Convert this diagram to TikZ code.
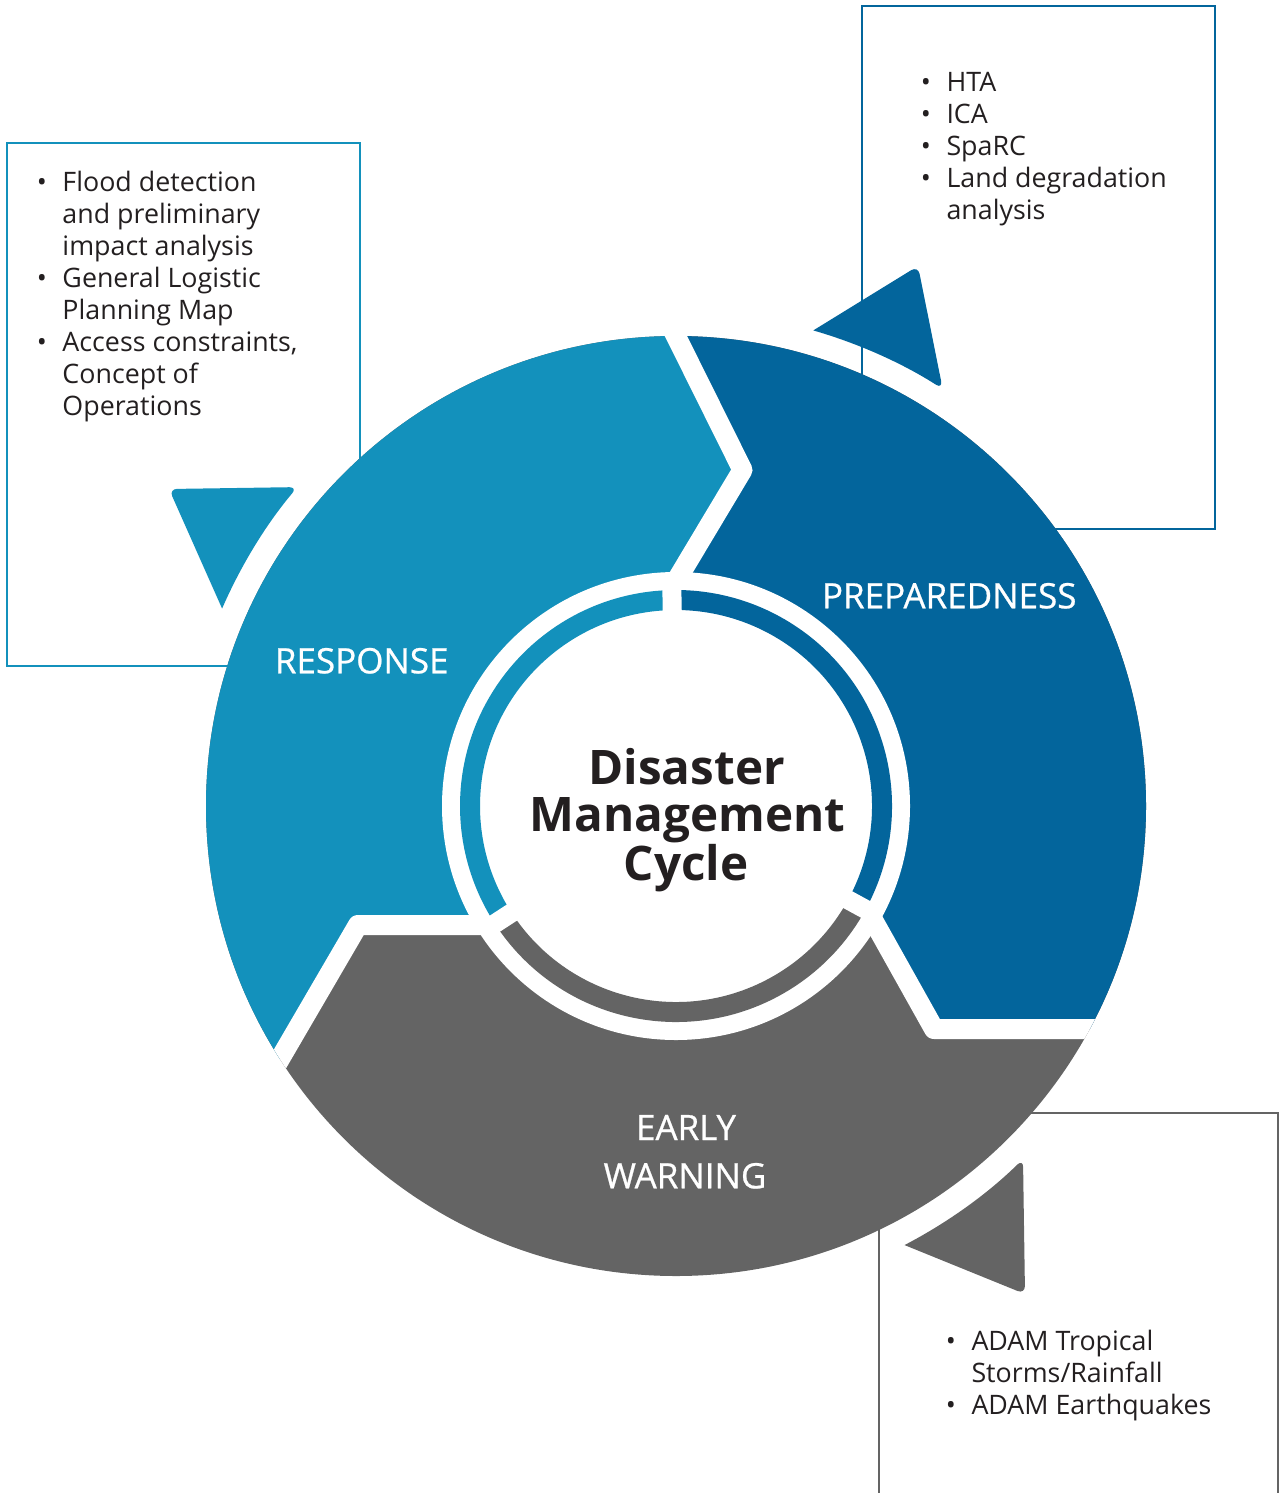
\documentclass[tikz,border=0pt]{standalone}
\usepackage{fontspec}
\setmainfont{Open Sans}
\newfontfamily\labelfont[FakeBold=0.7]{Open Sans}
\definecolor{lb}{HTML}{1391BC}
\definecolor{db}{HTML}{03659C}
\definecolor{gr}{HTML}{646464}
\definecolor{tx}{HTML}{231F20}
\newcommand{\bitem}[1]{\hbox{\makebox[12.8pt][l]{•}#1}}
\newcommand{\bcont}[1]{\hbox{\hspace*{12.8pt}#1}}
\tikzset{
  boxline/.style={line width=1pt},
  listtext/.style={font=\fontsize{13.4}{16}\selectfont, text=tx, anchor=base west, inner sep=0pt},
  seglabel/.style={font=\labelfont\fontsize{17.5}{24}\selectfont, text=white, anchor=base, inner sep=0pt},
  titletext/.style={font=\bfseries\fontsize{23.8}{24}\selectfont, text=tx, anchor=base, inner sep=0pt},
  sepline/.style={white, line width=10pt, line join=round},
  ringgap/.style={white, line width=9.5pt},
  ringarc/.style={line width=10pt},
}
\begin{document}
\begin{tikzpicture}[x=0.5pt,y=-0.5pt]
\useasboundingbox (0,0) rectangle (1280,1493);
% boxes
\draw[lb, boxline] (7,143) rectangle (360,666);
\draw[db, boxline] (862,6) rectangle (1215,529);
\draw[gr, boxline] (879,1500) -- (879,1113) -- (1278,1113) -- (1278,1500);
% arrowheads
\fill[db] (813.3,330.4) [rounded corners=4pt] -- (918,266) -- (942.7,389) [sharp corners] arc[start angle=-57.4, end angle=-73.9, radius=495] -- cycle;
\fill[lb] (222.1,608.6) [rounded corners=4pt] -- (169,489) -- (297.4,487.1) [sharp corners] arc[start angle=-139.9, end angle=-156.5, radius=495] -- cycle;
\fill[gr] (904.6,1245.1) [rounded corners=4pt] -- (1025,1294) -- (1023,1159) [sharp corners] arc[start angle=45.5, end angle=62.5, radius=495] -- cycle;
% big segments
\begin{scope}
  \clip (676,806) circle[radius=470];
  \fill[gr] (0,0) rectangle (1280,1493);
  \fill[lb] (658,300) -- (742.5,470) -- (681.5,572) -- (676,806) -- (480,925) -- (358,925) -- (207,1184) -- (0,1184) -- (0,300) -- cycle;
  \fill[db] (658,300) -- (742.5,470) -- (681.5,572) -- (676,806) -- (873,920) -- (934,1029) -- (1280,1029) -- (1280,300) -- cycle;
  \draw[sepline] (658,300) -- (742.5,470) -- (675.3,582.3);
  \draw[sepline] (207,1184) -- (358,925) -- (488,925);
  \draw[sepline] (1280,1029) -- (934,1029) -- (873,920);
\end{scope}
% inner ring
\fill[white] (676,806) circle[radius=234];
\draw[lb, ringarc] (676,806) ++(-91.1:206) arc[start angle=-91.1, end angle=-213, radius=206];
\draw[db, ringarc] (676,806) ++(28.6:206) arc[start angle=28.6, end angle=-91.1, radius=206];
\draw[gr, ringarc] (676,806) ++(-213:206) arc[start angle=-213, end angle=-331.4, radius=206];
\draw[ringgap] (676,806) ++(-91.1:188) -- ++(-91.1:36);
\draw[ringgap] (676,806) ++(-213:188) -- ++(-213:36);
\draw[ringgap] (676,806) ++(28.6:188) -- ++(28.6:36);
% labels
\node[seglabel] (resp) at (361.7,673.3) {RESPONSE};
\node[seglabel] (prep) at (949.2,608.3) {PREPAREDNESS};
\node[seglabel] (early) at (686,1140) {EARLY};
\node[seglabel] (warn) at (685,1188.3) {WARNING};
\node[titletext] (t1) at (686.7,784) {Disaster};
\node[titletext] (t2) at (687.5,831.7) {Management};
\node[titletext] (t3) at (686,880) {Cycle};
% lists
\node[listtext] (list1) at (36.5,191.7) {\vtop{\bitem{Flood detection}\bcont{and preliminary}\bcont{impact analysis}\bitem{General Logistic}\bcont{Planning Map}\bitem{Access constraints,}\bcont{Concept of}\bcont{Operations}}};
\node[listtext] (list2) at (920.5,91.7) {\vtop{\bitem{HTA}\bitem{ICA}\bitem{SpaRC}\bitem{Land degradation}\bcont{analysis}}};
\node[listtext] (list3) at (945.5,1350) {\vtop{\bitem{ADAM Tropical}\bcont{Storms/Rainfall}\bitem{ADAM Earthquakes}}};
\end{tikzpicture}
\end{document}
